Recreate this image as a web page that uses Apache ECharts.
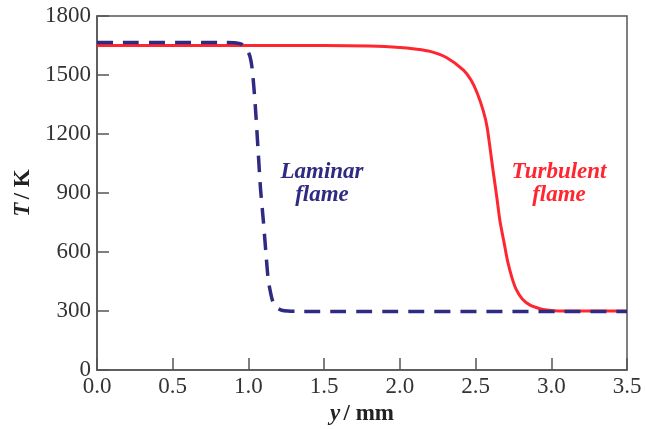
<!DOCTYPE html>
<html>
<head>
<meta charset="utf-8">
<script src="https://cdn.jsdelivr.net/npm/echarts@6/dist/echarts.min.js"></script>
<style>
  html, body { margin: 0; padding: 0; background: #fff; }
  #main { width: 645px; height: 429px; }
</style>
</head>
<body>
<div id="main"></div>
<script>
// distance y (mm) and temperature T (K)
var laminarY = [0, 0.85, 0.92, 0.96, 0.99, 1.01, 1.025, 1.044, 1.065, 1.08, 1.098, 1.115, 1.131, 1.15, 1.165, 1.19, 1.22, 1.26, 1.32, 3.5];
var laminarT = [1665, 1665, 1663, 1655, 1630, 1595, 1530, 1357, 1103, 920, 763, 600, 458, 380, 340, 315, 304, 300, 298, 298];
var turbY = [0, 1.5, 1.8, 2.0, 2.1, 2.2, 2.31, 2.42, 2.47, 2.51, 2.55, 2.576, 2.615, 2.64, 2.66, 2.69, 2.71, 2.74, 2.77, 2.81, 2.86, 2.92, 2.97, 3.05, 3.5];
var turbT = [1650, 1650, 1647, 1640, 1632, 1620, 1588, 1525, 1475, 1410, 1320, 1236, 1017, 880, 763, 640, 559, 470, 407, 360, 330, 313, 305, 300, 300];
var yTicks = [0, 300, 600, 900, 1200, 1500, 1800];

function pairs(xs, ys) {
  return xs.map(function (x, i) { return [x, ys[i]]; });
}

var axisGrey = '#555';
var serif = '"Liberation Serif", "DejaVu Serif", serif';
var nameRich = {
  i: { fontFamily: serif, fontStyle: 'italic', fontWeight: 'bold', fontSize: 23, color: '#222' },
  n: { fontFamily: serif, fontWeight: 'bold', fontSize: 23, color: '#222' }
};

var myChart = echarts.init(document.getElementById('main'));
myChart.setOption({
  animation: false,
  grid: {
    left: 97, right: 18, top: 16, bottom: 59, outerBoundsMode: 'none', containLabel: false,
    show: true, borderColor: axisGrey, borderWidth: 1.5
  },
  xAxis: {
    type: 'value', min: 0, max: 3.5, interval: 0.5,
    name: '{i|y} {n|/ mm}', nameLocation: 'middle', nameGap: 32,
    nameTextStyle: { rich: nameRich },
    axisLine: { lineStyle: { color: axisGrey, width: 1.5 } },
    axisTick: { inside: true, length: 12, lineStyle: { color: axisGrey, width: 1.5 } },
    axisLabel: { fontFamily: serif, fontSize: 23, color: '#333', margin: 5, formatter: function (v) { return v.toFixed(1); } },
    splitLine: { show: false }
  },
  yAxis: {
    type: 'value', min: 0, max: 1800, interval: 300,
    name: '{i|T} {n|/ K}', nameLocation: 'middle', nameGap: 57, nameRotate: 90,
    nameTextStyle: { rich: nameRich },
    axisLine: { lineStyle: { color: axisGrey, width: 1.5 } },
    axisTick: { inside: true, length: 12, lineStyle: { color: axisGrey, width: 1.5 } },
    axisLabel: {
      fontFamily: serif, fontSize: 23, color: '#333', margin: 6,
      formatter: function (v) { return yTicks.indexOf(v) >= 0 ? String(v) : ''; }
    },
    splitLine: { show: false }
  },
  series: [
    {
      name: 'Turbulent flame', type: 'line', data: pairs(turbY, turbT),
      smooth: 0.25, showSymbol: false, z: 2,
      lineStyle: { color: '#ff2630', width: 3 }
    },
    {
      name: 'Laminar flame', type: 'line', data: pairs(laminarY, laminarT),
      smooth: 0.25, showSymbol: false, z: 3,
      lineStyle: { color: '#2f2a82', width: 3.5, type: [16, 10] }
    }
  ],
  graphic: [
    {
      type: 'text',
      style: { x: 322, y: 184, text: 'Laminar\nflame', fill: '#2f2a82', font: 'italic bold 23px ' + serif, lineHeight: 23, align: 'center', verticalAlign: 'middle' }
    },
    {
      type: 'text',
      style: { x: 559, y: 184, text: 'Turbulent\nflame', fill: '#ff2630', font: 'italic bold 23px ' + serif, lineHeight: 23, align: 'center', verticalAlign: 'middle' }
    }
  ]
});
</script>
</body>
</html>
